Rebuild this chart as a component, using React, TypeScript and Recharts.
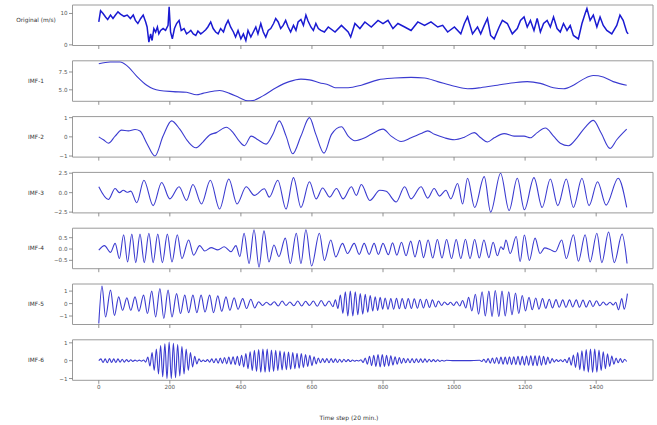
import React from 'react';
import { LineChart, Line, XAxis, YAxis, ReferenceArea } from 'recharts';

type P = [number, number];

const W = 657;
const H = 425;
const PLOT_LEFT = 72.5;
const PLOT_RIGHT = 653;
const PANEL_H = 40.5;
const X_AXIS_H = 20;
const panelTops = [5, 60.8, 116.6, 172.4, 228.2, 284, 339.8];

const xDomain: [number, number] = [-74, 1560];
const xTicks = [0, 200, 400, 600, 800, 1000, 1200, 1400];

const original: P[] = [
  [0, 7.3], [5, 10.9], [12, 10.0], [19, 8.9], [25, 8.1], [33, 9.5], [40, 8.4], [47, 9.5], [54, 10.5], [61, 9.8],
  [71, 9.1], [80, 9.5], [89, 8.4], [97, 9.5], [103, 7.8], [110, 6.8], [118, 8.4], [125, 9.5], [132, 7.3], [136, 5.7],
  [141, 0.9], [146, 3.5], [150, 1.4], [155, 5.2], [160, 4.1], [165, 5.7], [169, 3.5], [174, 4.6], [181, 5.2], [188, 4.6],
  [195, 6.2], [198, 12.1], [202, 4.1], [207, 1.9], [213, 5.2], [219, 6.8], [226, 7.8], [232, 4.6], [240, 5.2], [247, 3.5],
  [254, 4.1], [259, 4.6], [266, 3.5], [273, 3.0], [279, 4.4], [287, 3.5], [294, 4.1], [301, 4.8], [307, 5.7], [315, 7.3],
  [322, 5.2], [329, 4.1], [336, 3.5], [343, 5.2], [351, 4.1], [357, 6.2], [364, 7.8], [371, 5.7], [379, 4.1], [385, 2.5],
  [392, 4.6], [400, 1.9], [407, 3.5], [414, 1.4], [420, 4.6], [428, 2.5], [435, 4.1], [442, 5.7], [448, 3.5], [456, 6.8],
  [463, 4.1], [470, 2.5], [477, 4.6], [484, 5.2], [492, 6.8], [498, 8.4], [505, 7.3], [512, 5.2], [519, 6.2], [526, 7.8],
  [533, 5.7], [540, 4.1], [548, 6.2], [555, 4.6], [561, 7.3], [569, 8.1], [576, 6.2], [583, 9.5], [589, 7.6], [597, 5.7],
  [604, 4.6], [611, 6.8], [618, 5.2], [625, 4.6], [635, 4.1], [646, 5.7], [665, 4.1], [683, 6.2], [702, 4.1], [709, 2.5],
  [721, 6.8], [735, 5.2], [749, 7.3], [767, 5.7], [786, 7.8], [800, 6.8], [814, 7.8], [828, 5.2], [842, 6.8], [861, 5.7],
  [879, 4.6], [898, 7.3], [917, 6.2], [935, 7.3], [954, 5.7], [968, 6.2], [982, 4.1], [1001, 5.7], [1019, 3.5], [1029, 6.8],
  [1038, 8.9], [1052, 3.5], [1066, 5.7], [1075, 3.5], [1085, 6.2], [1094, 8.4], [1103, 3.0], [1113, 1.9], [1127, 5.7], [1136, 7.8],
  [1150, 6.8], [1164, 3.5], [1178, 5.2], [1187, 7.8], [1197, 8.9], [1206, 5.7], [1215, 7.8], [1225, 4.6], [1234, 8.4], [1243, 4.1],
  [1252, 6.8], [1262, 7.8], [1271, 5.7], [1280, 8.9], [1290, 5.2], [1299, 4.1], [1308, 6.8], [1318, 4.6], [1327, 6.2], [1336, 3.0],
  [1350, 1.9], [1360, 6.8], [1369, 10.0], [1374, 11.6], [1383, 7.8], [1392, 9.5], [1402, 5.7], [1411, 8.9], [1420, 6.2], [1430, 4.6],
  [1444, 3.5], [1458, 6.2], [1467, 9.5], [1476, 7.8], [1486, 4.1], [1490, 3.5],
];

const imf1: P[] = [
  [0, 8.65], [32, 8.9], [60, 8.9], [79, 8.4], [107, 6.9], [135, 5.65], [153, 5.15], [172, 4.9], [209, 4.75], [247, 4.65],
  [275, 4.3], [293, 4.5], [322, 4.8], [340, 4.9], [368, 4.5], [396, 3.9], [420, 3.45], [434, 3.5], [462, 4.15], [499, 5.3],
  [536, 6.15], [569, 6.5], [593, 6.4], [621, 6.0], [649, 5.65], [665, 5.3], [702, 5.3], [739, 5.65], [786, 6.4], [833, 6.65],
  [879, 6.75], [917, 6.65], [954, 6.15], [1001, 5.5], [1038, 5.15], [1075, 5.3], [1122, 5.65], [1169, 6.0], [1206, 6.15], [1243, 5.9],
  [1280, 5.3], [1308, 5.15], [1336, 5.65], [1364, 6.5], [1392, 7.0], [1420, 6.8], [1448, 6.15], [1486, 5.65],
];

const imf2: P[] = [
  [0, 0.0], [13, -0.15], [27, -0.33], [46, 0.04], [64, 0.35], [83, 0.31], [102, 0.38], [116, 0.3], [135, -0.33], [158, -1.0],
  [181, 0.04], [205, 0.83], [228, 0.4], [251, -0.24], [273, -0.57], [293, -0.27], [312, 0.1], [331, 0.22], [359, 0.5], [378, 0.22],
  [396, -0.24], [410, -0.46], [429, 0.04], [448, -0.15], [471, -0.38], [490, 0.13], [508, 0.83], [527, 0.05], [546, -0.88], [569, 0.04],
  [593, 1.0], [611, 0.13], [634, -0.85], [655, 0.13], [683, 0.53], [702, 0.04], [721, -0.2], [749, -0.05], [767, 0.13], [800, 0.4],
  [823, 0.04], [851, -0.24], [879, -0.05], [907, 0.17], [926, 0.31], [945, 0.13], [973, -0.05], [1001, -0.15], [1029, -0.02], [1057, 0.22],
  [1075, -0.05], [1094, -0.27], [1113, -0.05], [1141, 0.17], [1169, 0.04], [1197, 0.04], [1215, -0.05], [1234, 0.22], [1257, 0.46], [1280, 0.04],
  [1299, -0.33], [1322, -0.46], [1346, -0.05], [1369, 0.5], [1392, 0.86], [1414, 0.2], [1439, -0.6], [1458, -0.15], [1486, 0.4],
];

const imf3: P[] = [
  [0, 0.75], [27, -0.88], [46, 0.53], [58, 0.0], [69, 0.3], [80, 0.05], [90, 0.2], [107, -1.3], [127, 1.6], [153, -1.67],
  [177, 1.3], [200, -0.8], [226, 0.75], [247, -1.0], [265, 1.05], [289, -1.45], [314, 1.6], [340, -2.1], [366, 1.75], [389, -1.45],
  [415, 0.75], [438, -0.35], [466, 0.5], [480, -0.57], [504, 1.6], [527, -2.1], [548, 1.93], [569, -1.9], [593, 1.4], [612, -0.8],
  [630, 0.6], [650, -0.57], [669, 0.53], [688, -0.8], [711, 0.75], [725, -0.35], [739, 1.05], [763, -1.0], [791, 0.3], [809, 0.17],
  [837, -1.2], [861, 0.75], [879, -0.8], [907, 0.75], [926, -0.7], [944, 0.53], [959, -0.44], [977, 0.3], [991, -0.8], [1010, 1.18],
  [1024, -1.45], [1038, 1.84], [1058, -1.9], [1085, 2.06], [1103, -2.5], [1131, 2.5], [1155, -2.3], [1178, 1.84], [1198, -2.2], [1225, 1.93],
  [1248, -1.9], [1271, 1.75], [1292, -1.67], [1316, 1.75], [1336, -1.9], [1360, 1.84], [1380, -1.67], [1404, 1.4], [1428, -1.6], [1462, 1.84],
  [1486, -1.9],
];

const imf4: P[] = [
  [0, -0.05], [16, 0.15], [33, -0.15], [46, 0.25], [58, -0.42], [70, 0.63], [81, -0.57], [93, 0.66], [104, -0.6], [116, 0.66],
  [128, -0.6], [141, 0.7], [153, -0.6], [166, 0.66], [179, -0.6], [193, 0.66], [206, -0.57], [221, 0.63], [234, -0.42], [253, 0.4],
  [267, -0.27], [284, 0.15], [298, -0.09], [316, 0.06], [335, -0.04], [353, 0.1], [372, -0.12], [386, 0.15], [397, -0.34], [409, 0.7],
  [423, -0.64], [437, 0.85], [451, -0.8], [465, 0.8], [479, -0.57], [493, 0.18], [507, -0.34], [525, 0.48], [539, -0.64], [556, 0.7],
  [569, -0.64], [583, 0.85], [599, -0.75], [621, 0.7], [635, -0.5], [653, 0.4], [667, -0.35], [686, 0.25], [700, -0.2], [719, 0.25],
  [733, -0.24], [747, 0.25], [761, -0.24], [775, 0.25], [787, -0.24], [800, 0.25], [815, -0.25], [827, 0.27], [839, -0.27], [852, 0.3],
  [865, -0.3], [878, 0.35], [890, -0.35], [903, 0.38], [914, -0.38], [927, 0.4], [940, -0.4], [953, 0.42], [966, -0.4], [979, 0.42],
  [993, -0.42], [1006, 0.42], [1019, -0.42], [1032, 0.43], [1045, -0.42], [1058, 0.42], [1071, -0.4], [1084, 0.4], [1098, -0.38], [1110, 0.3],
  [1122, -0.3], [1132, 0.1], [1139, -0.02], [1146, 0.4], [1158, -0.2], [1175, 0.55], [1186, -0.55], [1198, 0.62], [1212, -0.5], [1228, 0.48],
  [1242, -0.2], [1255, 0.05], [1270, -0.02], [1285, -0.12], [1303, 0.4], [1316, -0.42], [1336, 0.63], [1350, -0.54], [1369, 0.63], [1383, -0.57],
  [1402, 0.7], [1416, -0.6], [1435, 0.75], [1451, -0.6], [1473, 0.66], [1487, -0.64],
];

const imf5: P[] = [
  [0, -1.6], [9, 1.4], [19, -1.08], [33, 1.08], [44, -0.95], [56, 0.54], [67, -0.54], [79, 0.46], [90, -0.54], [102, 0.54],
  [113, -0.62], [126, 0.68], [137, -0.8], [149, 1.0], [160, -1.08], [172, 1.2], [183, -1.2], [195, 1.08], [206, -1.08], [219, 0.8],
  [230, -0.8], [242, 0.68], [253, -0.73], [265, 0.68], [276, -0.73], [288, 0.68], [299, -0.68], [312, 0.68], [323, -0.73], [335, 0.62],
  [346, -0.62], [358, 0.54], [369, -0.54], [381, 0.46], [392, -0.46], [405, 0.4], [416, -0.4], [428, 0.35], [439, -0.35], [450, 0.15],
  [461, -0.15], [472, 0.1], [483, -0.12], [494, 0.15], [505, -0.2], [516, 0.2], [527, -0.15], [538, 0.12], [549, -0.18], [560, 0.2],
  [571, -0.2], [582, 0.18], [593, -0.15], [604, 0.2], [615, -0.22], [626, 0.25], [637, -0.2], [648, 0.2], [659, -0.25], [666, 0.3],
  [673, -0.4], [680, 0.68], [687, -0.8], [694, 0.95], [701, -1.0], [708, 1.0], [715, -1.0], [722, 0.95], [729, -0.9], [736, 0.8],
  [743, -0.85], [750, 0.75], [757, -0.7], [764, 0.65], [771, -0.6], [778, 0.55], [785, -0.55], [792, 0.5], [799, -0.45], [806, 0.45],
  [814, -0.45], [822, 0.4], [830, -0.45], [838, 0.42], [846, -0.42], [854, 0.4], [863, -0.42], [871, 0.4], [880, -0.4], [888, 0.38],
  [897, -0.38], [905, 0.35], [914, -0.35], [922, 0.35], [931, -0.32], [939, 0.3], [948, -0.28], [956, 0.2], [965, -0.15], [973, 0.12],
  [982, -0.1], [990, 0.1], [999, -0.15], [1007, 0.15], [1016, -0.2], [1024, 0.25], [1033, -0.35], [1041, 0.5], [1050, -0.6], [1060, 0.75],
  [1069, -0.85], [1079, 0.95], [1088, -1.0], [1098, 1.0], [1107, -1.05], [1116, 1.05], [1126, -1.05], [1135, 1.0], [1144, -1.0], [1154, 0.95],
  [1163, -0.9], [1173, 0.85], [1182, -0.8], [1192, 0.65], [1201, -0.6], [1211, 0.5], [1220, -0.5], [1230, 0.45], [1239, -0.45], [1249, 0.4],
  [1258, -0.38], [1268, 0.35], [1277, -0.35], [1287, 0.32], [1296, -0.3], [1306, 0.3], [1315, -0.3], [1325, 0.3], [1334, -0.28], [1344, 0.3],
  [1353, -0.3], [1363, 0.28], [1372, -0.28], [1382, 0.25], [1391, -0.25], [1401, 0.22], [1410, -0.18], [1420, 0.12], [1429, -0.12], [1439, 0.1],
  [1448, -0.12], [1455, 0.1], [1463, -0.5], [1472, 0.4], [1479, -0.45], [1488, 0.8],
];

const imf6: P[] = [
  [0, 0.0], [6, 0.1], [12, -0.1], [18, 0.1], [24, -0.12], [30, 0.12], [36, -0.1], [42, 0.1], [48, -0.1], [54, 0.1],
  [60, -0.08], [66, 0.08], [72, -0.08], [78, 0.06], [84, -0.06], [90, 0.05], [96, -0.04], [102, 0.03], [108, -0.03], [114, 0.03],
  [120, -0.03], [126, 0.04], [132, -0.08], [138, 0.2], [144, -0.3], [150, 0.45], [156, -0.55], [162, 0.65], [168, -0.75], [174, 0.85],
  [180, -0.9], [186, 0.95], [192, -1.0], [198, 1.05], [204, -1.0], [210, 0.98], [216, -0.95], [222, 0.9], [228, -0.85], [234, 0.8],
  [240, -0.75], [246, 0.65], [252, -0.55], [258, 0.45], [264, -0.35], [270, 0.25], [276, -0.18], [282, 0.1], [288, -0.06], [294, 0.04],
  [300, -0.05], [306, 0.06], [312, -0.08], [318, 0.1], [324, -0.12], [330, 0.12], [336, -0.14], [342, 0.15], [348, -0.15], [354, 0.18],
  [360, -0.18], [366, 0.2], [372, -0.2], [378, 0.22], [384, -0.22], [390, 0.25], [396, -0.28], [402, 0.3], [408, -0.35], [414, 0.4],
  [420, -0.45], [426, 0.5], [432, -0.55], [438, 0.58], [444, -0.6], [450, 0.62], [456, -0.65], [462, 0.65], [468, -0.65], [474, 0.65],
  [480, -0.62], [486, 0.6], [492, -0.6], [498, 0.58], [504, -0.55], [510, 0.55], [516, -0.52], [522, 0.5], [528, -0.5], [534, 0.48],
  [540, -0.48], [546, 0.45], [552, -0.45], [558, 0.42], [564, -0.42], [570, 0.4], [576, -0.38], [582, 0.35], [588, -0.32], [594, 0.3],
  [600, -0.28], [606, 0.22], [612, -0.18], [618, 0.15], [624, -0.12], [630, 0.12], [636, -0.1], [642, 0.12], [648, -0.12], [654, 0.12],
  [660, -0.1], [666, 0.1], [672, -0.1], [678, 0.08], [684, -0.08], [690, 0.08], [696, -0.06], [702, 0.06], [708, -0.05], [714, 0.04],
  [720, -0.03], [726, 0.02], [732, -0.02], [738, 0.05], [744, -0.1], [750, 0.15], [756, -0.2], [762, 0.25], [768, -0.28], [774, 0.3],
  [780, -0.32], [786, 0.35], [792, -0.35], [798, 0.35], [804, -0.32], [810, 0.3], [816, -0.3], [822, 0.28], [828, -0.25], [834, 0.22],
  [840, -0.2], [846, 0.18], [852, -0.16], [858, 0.14], [864, -0.12], [870, 0.12], [876, -0.12], [882, 0.12], [888, -0.12], [894, 0.1],
  [900, -0.1], [906, 0.1], [912, -0.1], [918, 0.1], [924, -0.08], [930, 0.08], [936, -0.06], [942, 0.06], [948, -0.06], [954, 0.05],
  [960, -0.04], [966, 0.02], [972, -0.02], [978, 0.02], [1000, 0.0], [1040, 0.0], [1072, 0.02], [1078, -0.05], [1084, 0.08], [1090, -0.1],
  [1096, 0.12], [1102, -0.14], [1108, 0.15], [1114, -0.16], [1120, 0.18], [1126, -0.18], [1132, 0.2], [1138, -0.2], [1144, 0.2], [1150, -0.2],
  [1156, 0.22], [1162, -0.22], [1168, 0.22], [1174, -0.22], [1180, 0.24], [1186, -0.24], [1192, 0.25], [1198, -0.25], [1204, 0.26], [1210, -0.26],
  [1216, 0.28], [1222, -0.28], [1228, 0.28], [1234, -0.28], [1240, 0.28], [1246, -0.26], [1252, 0.25], [1258, -0.22], [1264, 0.2], [1270, -0.16],
  [1276, 0.12], [1282, -0.08], [1288, 0.06], [1294, -0.05], [1300, 0.05], [1306, -0.06], [1312, 0.08], [1318, -0.12], [1324, 0.18], [1330, -0.25],
  [1336, 0.32], [1342, -0.38], [1348, 0.45], [1354, -0.5], [1360, 0.55], [1366, -0.58], [1372, 0.62], [1378, -0.64], [1384, 0.65], [1390, -0.66],
  [1396, 0.65], [1402, -0.64], [1408, 0.6], [1414, -0.55], [1420, 0.5], [1426, -0.45], [1432, 0.38], [1438, -0.32], [1444, 0.26], [1450, -0.2],
  [1456, 0.15], [1462, -0.12], [1468, 0.12], [1474, -0.1], [1480, 0.08], [1486, -0.05],
];

const seriesLabels = ['Original (m/s)', 'IMF-1', 'IMF-2', 'IMF-3', 'IMF-4', 'IMF-5', 'IMF-6'];
const seriesData = [original, imf1, imf2, imf3, imf4, imf5, imf6];
const yDomains: [number, number][] = [
  [-0.2, 12.7], [3.39, 9.07], [-1.055, 1.055], [-2.6, 2.6], [-0.87, 0.92], [-1.68, 1.57], [-1.1, 1.17],
];
const yTicks = [[0, 10], [5.0, 7.5], [-1, 0, 1], [-2.5, 0, 2.5], [-0.5, 0, 0.5], [-1, 0, 1], [-1, 0, 1]];
const yTickDecimals = [0, 1, 0, 1, 1, 0, 0];
const curveTypes = ['linear', 'monotone', 'monotone', 'monotone', 'monotone', 'monotone', 'monotone'];

const FONT = '"DejaVu Sans", sans-serif';
const TICK_COLOR = '#555';
const FRAME_COLOR = '#9a9a9a';

const fmtY = (decimals: number) => (v: number) => {
  const s = Math.abs(v).toFixed(decimals);
  return v < 0 ? '\u2212' + s : s;
};

function Panel({ idx }: { idx: number }) {
  const top = panelTops[idx];
  const rows = seriesData[idx].map(([t, v]) => ({ t, v }));
  const dom = yDomains[idx];
  const isLast = idx === seriesData.length - 1;
  return (
    <div style={{ position: 'absolute', left: 0, top: 0 }}>
      <LineChart
        width={W}
        height={H}
        data={rows}
        margin={{ top, right: W - PLOT_RIGHT, bottom: H - top - PANEL_H - X_AXIS_H, left: 0 }}
      >
        <XAxis
          type="number"
          dataKey="t"
          domain={xDomain}
          ticks={xTicks}
          allowDataOverflow
          interval={0}
          height={X_AXIS_H}
          axisLine={false}
          tickSize={3.5}
          tickMargin={1.5}
          tickLine={{ stroke: '#777', strokeWidth: 0.8 }}
          tick={{ fontSize: 5.6, fill: TICK_COLOR, fontFamily: FONT }}
          tickFormatter={(v: number) => (isLast ? String(v) : '')}
        />
        <YAxis
          type="number"
          domain={dom}
          ticks={yTicks[idx]}
          allowDataOverflow
          interval={0}
          width={PLOT_LEFT}
          axisLine={false}
          tickSize={3.5}
          tickMargin={1.5}
          tickLine={{ stroke: '#777', strokeWidth: 0.8 }}
          tick={{ fontSize: 5.6, fill: TICK_COLOR, fontFamily: FONT }}
          tickFormatter={fmtY(yTickDecimals[idx])}
        />
        <ReferenceArea
          x1={xDomain[0]}
          x2={xDomain[1]}
          y1={dom[0]}
          y2={dom[1]}
          fill="none"
          fillOpacity={0}
          stroke={FRAME_COLOR}
          strokeWidth={1}
          ifOverflow="visible"
        />
        <Line
          type={curveTypes[idx] as any}
          dataKey="v"
          stroke={idx === 0 ? '#1a1ad2' : '#3b3bd0'}
          strokeWidth={idx === 0 ? 1.5 : 1.1}
          dot={false}
          activeDot={false}
          isAnimationActive={false}
        />
      </LineChart>
    </div>
  );
}

export default function App() {
  return (
    <div style={{ position: 'absolute', left: 0, top: 0, width: W, height: H, background: '#fff', overflow: 'hidden' }}>
      {seriesData.map((_, i) => (
        <Panel key={i} idx={i} />
      ))}
      {seriesLabels.map((lab, i) => (
        <div
          key={lab}
          style={{
            position: 'absolute',
            left: 36,
            top: i === 0 ? 20 : panelTops[i] + PANEL_H / 2,
            transform: 'translate(-50%, -50%)',
            fontFamily: FONT,
            fontSize: 5.8,
            color: '#333',
            whiteSpace: 'nowrap',
          }}
        >
          {lab}
        </div>
      ))}
      <div
        style={{
          position: 'absolute',
          left: 349,
          top: 417,
          transform: 'translate(-50%, -50%)',
          fontFamily: FONT,
          fontSize: 6,
          color: '#333',
          whiteSpace: 'nowrap',
        }}
      >
        Time step (20 min.)
      </div>
    </div>
  );
}
